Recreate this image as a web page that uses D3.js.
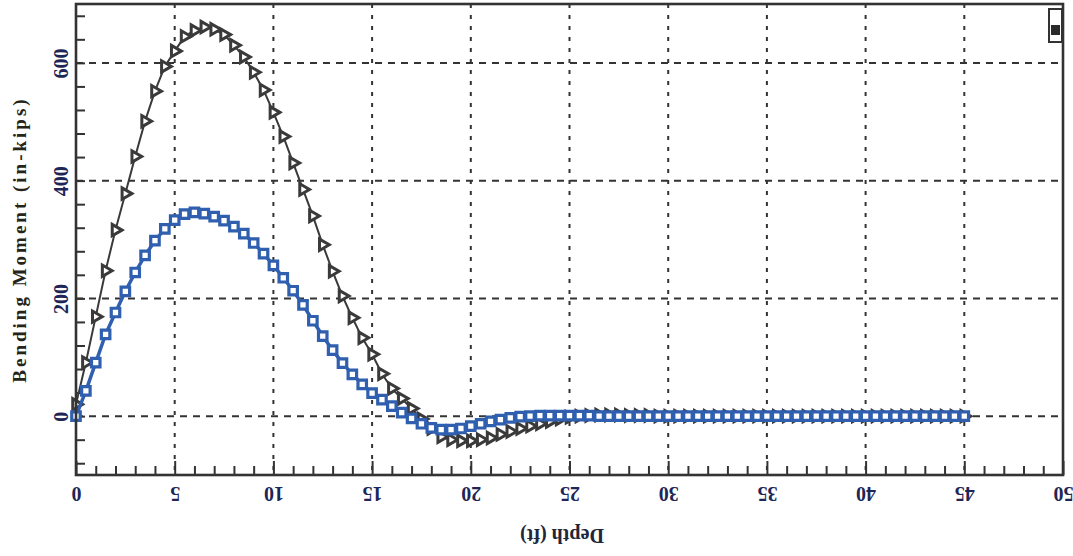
<!DOCTYPE html>
<html>
<head>
<meta charset="utf-8">
<script src="https://cdn.jsdelivr.net/npm/d3@7"></script>
<style>
  html, body { margin: 0; padding: 0; background: #fff; }
  svg { display: block; }
</style>
</head>
<body>
<svg id="chart" width="1073" height="556"></svg>
<script>
// ---- data ----
const depth = [0,0.5,1,1.5,2,2.5,3,3.5,4,4.5,5,5.5,6,6.5,7,7.5,8,8.5,9,9.5,
  10,10.5,11,11.5,12,12.5,13,13.5,14,14.5,15,15.5,16,16.5,17,17.5,18,18.5,19,19.5,
  20,20.5,21,21.5,22,22.5,23,23.5,24,24.5,25,25.5,26,26.5,27,27.5,28,28.5,29,29.5,
  30,30.5,31,31.5,32,32.5,33,33.5,34,34.5,35,35.5,36,36.5,37,37.5,38,38.5,39,39.5,
  40,40.5,41,41.5,42,42.5,43,43.5,44,44.5,45];
const momentGray = [20,91,169,247,316,378,441,501,552,594,620,645,655,661,657,648,630,610,584,554,
  516,475,430,385,340,291,246,204,167,133,105,72,47,30,13,-5,-21,-35,-40,-42,
  -42,-40,-37,-31,-26,-21,-17,-13,-9,-5,-2,0,1,2,2,2,1,1,1,0,
  0,0,0,0,0,0,0,0,0,0,0,0,0,0,0,0,0,0,0,0,
  0,0,0,0,0,0,0,0,0,0,0];
const momentBlue = [0,43,91,139,176,212,244,273,298,318,333,343,346,344,339,332,322,310,294,276,
  256,235,213,189,162,136,112,90,71,54,39,28,17,6,-4,-13,-20,-23,-23,-21,
  -17,-13,-9,-6,-3,-1,0,1,1,1,1,1,1,0,0,0,0,0,0,0,
  0,0,0,0,0,0,0,0,0,0,0,0,0,0,0,0,0,0,0,0,
  0,0,0,0,0,0,0,0,0,0,0];
const xMajorTicks = [0,5,10,15,20,25,30,35,40,45,50];
const xMinorTicks = [1,2,3,4,6,7,8,9,11,12,13,14,16,17,18,19,21,22,23,24,26,27,28,29,31,32,33,34,36,37,38,39,41,42,43,44,46,47,48,49];
const yMajorTicks = [0,200,400,600];
const yMinorTicks = [-80,-40,0,40,80,120,160,200,240,280,320,360,400,440,480,520,560,600,640,680];
const xGrid = [5,10,15,20,25,30,35,40,45];
const yGrid = [0,200,400,600];
const xTitle = "Depth (ft)";
const yTitle = "Bending Moment (in-kips)";

// ---- layout ----
const L = 76, R = 1063, T = 4, B = 475;
const svg = d3.select("#chart");
const x = d3.scaleLinear().domain([0, 50]).range([L, R]);
const y = d3.scaleLinear().domain([-100, 700]).range([B, T]);
const ink = "#333333";
const blue = "#2f5fae";
const labelColor = "#1d2656";

// gridlines
svg.append("g").selectAll("line").data(xGrid).join("line")
  .attr("x1", d => x(d)).attr("x2", d => x(d))
  .attr("y1", T).attr("y2", B)
  .attr("stroke", ink).attr("stroke-width", 2).attr("stroke-dasharray", "4,7");
svg.append("g").selectAll("line").data(yGrid).join("line")
  .attr("x1", L).attr("x2", R)
  .attr("y1", d => y(d)).attr("y2", d => y(d))
  .attr("stroke", ink).attr("stroke-width", 2).attr("stroke-dasharray", "7,6");

// axes: ticks pointing inward
const xAxisMinor = d3.axisBottom(x).tickValues(xMinorTicks).tickSize(-9).tickFormat("");
const xAxisMajor = d3.axisBottom(x).tickValues(xMajorTicks).tickSize(-14).tickFormat(d3.format("d"));
const yAxisMinor = d3.axisLeft(y).tickValues(yMinorTicks).tickSize(-9).tickFormat("");
const yAxisMajor = d3.axisLeft(y).tickValues(yMajorTicks).tickSize(0).tickFormat(d3.format("d"));

function styleAxis(g) {
  g.select(".domain").remove();
  g.selectAll(".tick line").attr("stroke", ink).attr("stroke-width", 2);
}
svg.append("g").attr("transform", `translate(0,${B})`).call(xAxisMinor).call(styleAxis);
const gxMaj = svg.append("g").attr("transform", `translate(0,${B})`).call(xAxisMajor).call(styleAxis);
gxMaj.selectAll(".tick text")
  .attr("y", 0).attr("dy", "0.35em")
  .attr("transform", "translate(0,19) rotate(180)")
  .attr("fill", labelColor)
  .attr("font-family", "'Liberation Serif', 'DejaVu Serif', serif")
  .attr("font-size", 20).attr("font-weight", "bold");
svg.append("g").attr("transform", `translate(${L},0)`).call(yAxisMinor).call(styleAxis);
const gyMaj = svg.append("g").attr("transform", `translate(${L},0)`).call(yAxisMajor).call(styleAxis);
gyMaj.selectAll(".tick text")
  .attr("x", 0).attr("dy", "0.35em")
  .attr("transform", "translate(-15,0) rotate(-90)")
  .attr("text-anchor", "middle")
  .attr("fill", labelColor)
  .attr("font-family", "'Liberation Serif', 'DejaVu Serif', serif")
  .attr("font-size", 20).attr("font-weight", "bold");

// titles
svg.append("text")
  .attr("transform", `translate(562,536) rotate(180)`)
  .attr("text-anchor", "middle").attr("dy", "0.35em")
  .attr("font-family", "'Liberation Serif', serif")
  .attr("font-size", 20).attr("font-weight", "bold")
  .attr("fill", "#22263a")
  .text(xTitle);
svg.append("text")
  .attr("transform", `translate(19,${(T + B) / 2}) rotate(-90)`)
  .attr("text-anchor", "middle").attr("dy", "0.35em")
  .attr("font-family", "'Liberation Serif', serif")
  .attr("font-size", 19).attr("font-weight", "bold")
  .attr("letter-spacing", 3)
  .attr("fill", "#262418")
  .text(yTitle);

// series
const line = d3.line().x(d => x(d[0])).y(d => y(d[1]));
const grayPts = depth.map((d, i) => [d, momentGray[i]]);
const bluePts = depth.map((d, i) => [d, momentBlue[i]]);

svg.append("path").datum(grayPts).attr("d", line)
  .attr("fill", "none").attr("stroke", "#3a3a3a").attr("stroke-width", 2);
const tri = d3.symbol().type(d3.symbolTriangle).size(55);
svg.append("g").selectAll("path").data(grayPts).join("path")
  .attr("d", tri)
  .attr("transform", d => `translate(${x(d[0])},${y(d[1])}) rotate(90)`)
  .attr("fill", "#ffffff").attr("stroke", "#3a3a3a").attr("stroke-width", 3);

svg.append("path").datum(bluePts).attr("d", line)
  .attr("fill", "none").attr("stroke", blue).attr("stroke-width", 3.5);
const sq = d3.symbol().type(d3.symbolSquare).size(72);
svg.append("g").selectAll("path").data(bluePts).join("path")
  .attr("d", sq)
  .attr("transform", d => `translate(${x(d[0])},${y(d[1])})`)
  .attr("fill", "#ffffff").attr("stroke", blue).attr("stroke-width", 3.2);

// frame
svg.append("rect").attr("x", L).attr("y", T).attr("width", R - L).attr("height", B - T)
  .attr("fill", "none").attr("stroke", ink).attr("stroke-width", 2.6);

// small legend box at top-right
svg.append("rect").attr("x", 1049).attr("y", 9).attr("width", 13).attr("height", 33)
  .attr("fill", "#ffffff").attr("stroke", ink).attr("stroke-width", 2);
svg.append("rect").attr("x", 1051).attr("y", 25).attr("width", 9).attr("height", 10)
  .attr("fill", "#2a2a2a");
</script>
</body>
</html>
